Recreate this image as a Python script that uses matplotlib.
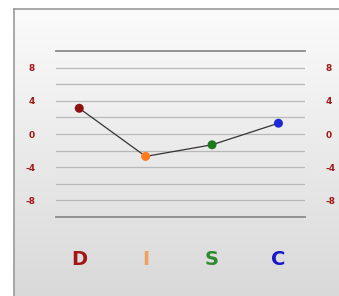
import numpy as np
import matplotlib.pyplot as plt

categories = ['D', 'I', 'S', 'C']
values = [3.1, -2.7, -1.3, 1.3]
marker_colors = ['#8e1212', '#ff7a1e', '#1c7a1c', '#1a2ad6']
label_colors = ['#a31515', '#f2a060', '#2e8b2e', '#1818c8']
tick_vals = [8, 4, 0, -4, -8]
grid_vals = [-8, -6, -4, -2, 0, 2, 4, 6, 8]

fig = plt.figure(figsize=(3.39, 2.96), dpi=100)

# background panel with gradient
bg = fig.add_axes([14 / 339, 0, 1 - 14 / 339, 1 - 9 / 296])
grad = np.linspace(0, 1, 256).reshape(-1, 1)
bg.imshow(grad, aspect='auto', cmap=plt.cm.colors.LinearSegmentedColormap.from_list('g', ['#fbfbfb', '#d9d9d9']),
          extent=[0, 1, 0, 1], origin='upper')
bg.set_xticks([])
bg.set_yticks([])
for s in ['right', 'bottom']:
    bg.spines[s].set_visible(False)
for s in ['left', 'top']:
    bg.spines[s].set_color('#9a9a9a')
    bg.spines[s].set_linewidth(1.2)

ax = fig.add_axes([56 / 339, 1 - 217 / 296, (305 - 56) / 339, (217 - 51) / 296])
ax.patch.set_alpha(0)
x = np.arange(len(categories))
ax.plot(x, values, color='#333333', lw=0.9, zorder=2)
ax.scatter(x, values, c=marker_colors, s=42, zorder=3, edgecolors='none')

ax.set_xlim(-0.35, 3.4)
ax.set_ylim(-10, 10)
ax.set_yticks(tick_vals)
ax.set_yticklabels([str(v) for v in tick_vals])
ax.set_yticks(grid_vals, minor=True)
ax.grid(True, axis='y', which='both', color='#b8b8b8', lw=0.9)
ax.tick_params(axis='y', which='both', length=0)
ax.tick_params(axis='y', labelright=True, labelsize=6.5, labelcolor='#a01818')
for lab in ax.get_yticklabels():
    lab.set_fontweight('bold')
ax.yaxis.set_tick_params(pad=15)

ax.set_xticks(x)
ax.set_xticklabels(categories)
ax.tick_params(axis='x', length=0, pad=24)
for lab, c in zip(ax.get_xticklabels(), label_colors):
    lab.set_color(c)
    lab.set_fontsize(14)
    lab.set_fontweight('bold')

for s in ['left', 'right']:
    ax.spines[s].set_visible(False)
for s in ['top', 'bottom']:
    ax.spines[s].set_color('#8a8a8a')
    ax.spines[s].set_linewidth(1.3)

fig.savefig('out.png', dpi=100)
